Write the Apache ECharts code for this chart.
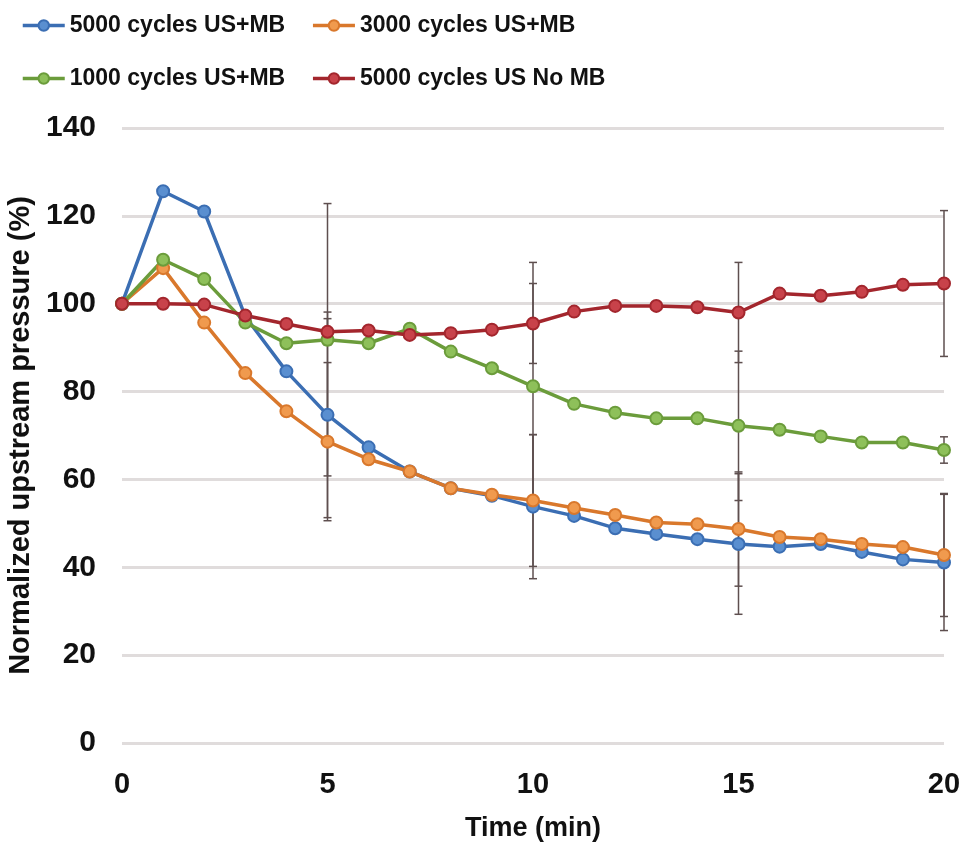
<!DOCTYPE html>
<html>
<head>
<meta charset="utf-8">
<script src="https://cdn.jsdelivr.net/npm/echarts@6/dist/echarts.min.js"></script>
<style>
  html, body { margin: 0; padding: 0; background: #fff; }
  #chart { width: 966px; height: 847px; }
</style>
</head>
<body>
<div id="chart"></div>
<script>
// time points (min)
const timeMin = [0, 1, 2, 3, 4, 5, 6, 7, 8, 9, 10, 11, 12, 13, 14, 15, 16, 17, 18, 19, 20];
// normalized upstream pressure (%)
const us5000 = [100, 125.6, 121.0, 97.1, 84.6, 74.7, 67.3, 61.8, 58.0, 56.3, 53.8, 51.7, 48.9, 47.6, 46.4, 45.3, 44.7, 45.3, 43.5, 41.8, 41.1];
const us3000 = [100, 108.1, 95.7, 84.2, 75.5, 68.6, 64.6, 61.8, 58.0, 56.5, 55.2, 53.5, 51.9, 50.2, 49.8, 48.7, 46.9, 46.4, 45.3, 44.6, 42.8];
const us1000 = [100, 110.0, 105.6, 95.7, 91.0, 91.8, 91.0, 94.3, 89.1, 85.3, 81.2, 77.2, 75.2, 73.9, 73.9, 72.2, 71.3, 69.8, 68.4, 68.4, 66.7];
const usNoMb = [100, 100, 99.8, 97.3, 95.4, 93.6, 93.9, 92.9, 93.3, 94.1, 95.5, 98.2, 99.5, 99.5, 99.2, 98.0, 102.3, 101.8, 102.7, 104.3, 104.6];

// error bars (+/-) at selected times
const errTimes = [5, 10, 15, 20];
const err5000 = [23.4, 16.4, 16.0, 15.5];
const err3000 = [18.0, 15.0, 13.0, 14.0];
const err1000 = [31.0, 28.2, 17.0, 3.0];
const errNoMb = [3.0, 9.1, 11.4, 16.6];

const seriesNames = ["5000 cycles US+MB", "3000 cycles US+MB", "1000 cycles US+MB", "5000 cycles US No MB"];
const yTicks = [0, 20, 40, 60, 80, 100, 120, 140];

const FONT = "'Liberation Sans', sans-serif";

var chart = echarts.init(document.getElementById("chart"));

function pairs(vals) {
  return timeMin.map((t, i) => [t, vals[i]]);
}

function errData(vals, errs) {
  return errTimes.map((t, i) => {
    var m = vals[timeMin.indexOf(t)];
    return [t, m - errs[i], m + errs[i]];
  });
}

function errSeries(name, vals, errs) {
  return {
    name: name + " err",
    type: "custom",
    z: 1,
    silent: true,
    data: errData(vals, errs),
    renderItem: (params, api) => {
      var lo = api.coord([api.value(0), api.value(1)]);
      var hi = api.coord([api.value(0), api.value(2)]);
      var cap = 4;
      var style = { stroke: "#5e4f4f", lineWidth: 1.5 };
      return {
        type: "group",
        children: [
          { type: "line", shape: { x1: hi[0], y1: hi[1], x2: lo[0], y2: lo[1] }, style: style },
          { type: "line", shape: { x1: hi[0] - cap, y1: hi[1], x2: hi[0] + cap, y2: hi[1] }, style: style },
          { type: "line", shape: { x1: lo[0] - cap, y1: lo[1], x2: lo[0] + cap, y2: lo[1] }, style: style },
        ],
      };
    },
  };
}

function lineSeries(name, vals, color, fill) {
  return {
    name: name,
    type: "line",
    z: 3,
    data: pairs(vals),
    symbol: "circle",
    symbolSize: 12,
    lineStyle: { color: color, width: 3.5 },
    itemStyle: { color: fill, borderColor: color, borderWidth: 2 },
  };
}

const legendText = { fontFamily: FONT, fontSize: 23, fontWeight: "bold", color: "#111" };

const option = {
  animation: false,
  backgroundColor: "#ffffff",
  textStyle: { fontFamily: FONT },
  legend: [
    {
      data: [seriesNames[0], seriesNames[1]],
      left: 16,
      top: 9,
      itemWidth: 42,
      itemHeight: 13,
      itemGap: 26,
      lineStyle: { width: 3.5 },
      textStyle: legendText,
    },
    {
      data: [seriesNames[2], seriesNames[3]],
      left: 16,
      top: 62,
      itemWidth: 42,
      itemHeight: 13,
      itemGap: 26,
      lineStyle: { width: 3.5 },
      textStyle: legendText,
    },
  ],
  grid: {
    left: 122,
    right: 22,
    top: 128,
    bottom: 104,
    containLabel: false,
    outerBoundsMode: "none",
  },
  xAxis: {
    type: "value",
    min: 0,
    max: 20,
    interval: 5,
    name: "Time (min)",
    nameLocation: "middle",
    nameGap: 72,
    nameTextStyle: { fontFamily: FONT, fontSize: 27, fontWeight: "bold", color: "#111" },
    axisLine: { show: false },
    axisTick: { show: false },
    splitLine: { show: false },
    axisLabel: { fontFamily: FONT, fontSize: 29, fontWeight: "bold", color: "#111", margin: 27 },
  },
  yAxis: {
    type: "value",
    min: yTicks[0],
    max: yTicks[yTicks.length - 1],
    interval: 20,
    name: "Normalized upstream pressure (%)",
    nameLocation: "middle",
    nameGap: 86,
    nameTextStyle: { fontFamily: FONT, fontSize: 29, fontWeight: "bold", color: "#111" },
    axisLine: { show: false },
    axisTick: { show: false },
    axisLabel: { fontFamily: FONT, fontSize: 30, fontWeight: "bold", color: "#111", margin: 26 },
    splitLine: { lineStyle: { color: "#e0dcdc", width: 3 } },
  },
  series: [
    errSeries(seriesNames[0], us5000, err5000),
    errSeries(seriesNames[1], us3000, err3000),
    errSeries(seriesNames[2], us1000, err1000),
    errSeries(seriesNames[3], usNoMb, errNoMb),
    lineSeries(seriesNames[0], us5000, "#3b6eb3", "#5a8fd0"),
    lineSeries(seriesNames[1], us3000, "#d9782c", "#f09a4e"),
    lineSeries(seriesNames[2], us1000, "#6b9c3b", "#8ec05a"),
    lineSeries(seriesNames[3], usNoMb, "#a3262d", "#c8424a"),
  ],
};

chart.setOption(option);
window.addEventListener("resize", () => {
  chart.resize();
});
</script>
</body>
</html>
